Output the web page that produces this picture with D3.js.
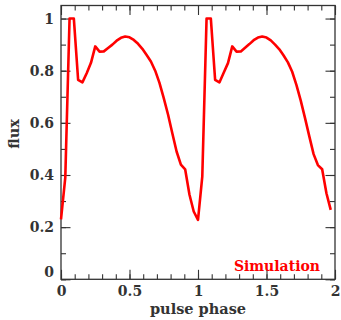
<!DOCTYPE html>
<html>
<head>
<meta charset="utf-8">
<script src="https://cdn.jsdelivr.net/npm/d3@7"></script>
<style>
  body { margin: 0; background: #fff; }
  text { font-family: "DejaVu Serif", serif; font-weight: bold; fill: #333; }
</style>
</head>
<body>
<svg id="chart" width="341" height="320"></svg>
<script>
// pulse profile, phase bins of 1/32, two cycles
const phase = d3.range(64).map(i => i / 32);
const flux = [
  0.23, 0.39, 1.00, 1.00, 0.765, 0.755, 0.79, 0.83,
  0.893, 0.873, 0.874, 0.887, 0.90, 0.915, 0.926, 0.931,
  0.928, 0.918, 0.903, 0.884, 0.86, 0.835, 0.80, 0.753,
  0.695, 0.632, 0.56, 0.49, 0.44, 0.422, 0.325, 0.26,
  0.228, 0.394, 1.00, 1.00, 0.765, 0.755, 0.792, 0.829,
  0.893, 0.873, 0.874, 0.888, 0.902, 0.917, 0.927, 0.931,
  0.927, 0.916, 0.90, 0.882, 0.858, 0.832, 0.796, 0.745,
  0.685, 0.618, 0.548, 0.48, 0.438, 0.422, 0.33, 0.266
];
const xTicks = [0, 0.5, 1, 1.5, 2];
const yTicks = [0, 0.2, 0.4, 0.6, 0.8, 1];
const xLabel = "pulse phase";
const yLabel = "flux";
const seriesName = "Simulation";

const svg = d3.select("#chart");
const mLeft = 61, mRight = 335, mTop = 5.5, mBottom = 279.3;

const x = d3.scaleLinear().domain([0, 2]).range([mLeft, mRight]);
const y = d3.scaleLinear().domain([0, 1.05]).range([mBottom, mTop]);

const xMinor = d3.range(0, 2.0001, 0.1);
const yMinor = d3.range(0, 1.0001, 0.1);

// inward ticks on all four sides
function tickAxis(axis, minor, major, fmt) {
  return g => {
    g.call(axis(minor).tickSize(-5).tickFormat(""));
    g.append("g").call(axis(major).tickSize(-9.5).tickFormat(fmt).tickPadding(7));
  };
}

function styleAxis(g) {
  g.selectAll(".domain").remove();
  g.selectAll("line").attr("stroke", "#333").attr("stroke-width", 1.1);
  g.selectAll("text").attr("font-size", 14).attr("fill", "#333")
    .attr("font-family", null);
}

const fmt = d => d3.format("")(d);

svg.append("g").attr("transform", `translate(0,${mBottom})`)
  .call(tickAxis(t => d3.axisBottom(x).tickValues(t), xMinor, xTicks, fmt))
  .call(styleAxis);
svg.append("g").attr("transform", `translate(0,${mTop})`)
  .call(tickAxis(t => d3.axisTop(x).tickValues(t), xMinor, xTicks, ""))
  .call(styleAxis);
svg.append("g").attr("transform", `translate(${mLeft},0)`)
  .call(tickAxis(t => d3.axisLeft(y).tickValues(t), yMinor, yTicks, fmt))
  .call(styleAxis)
  // the zero label sits a little above the corner
  .call(g => g.selectAll(".tick text").filter(d => d === 0).attr("y", -7));
svg.append("g").attr("transform", `translate(${mRight},0)`)
  .call(tickAxis(t => d3.axisRight(y).tickValues(t), yMinor, yTicks, ""))
  .call(styleAxis);

svg.selectAll("g").attr("font-family", null).attr("font-size", null);

svg.append("rect")
  .attr("x", mLeft).attr("y", mTop)
  .attr("width", mRight - mLeft).attr("height", mBottom - mTop)
  .attr("fill", "none").attr("stroke", "#333").attr("stroke-width", 1.3);

const line = d3.line().x((d, i) => x(phase[i])).y(d => y(d));
svg.append("path")
  .datum(flux)
  .attr("d", line)
  .attr("fill", "none")
  .attr("stroke", "#ff0000")
  .attr("stroke-width", 2.6)
  .attr("stroke-linejoin", "round");

svg.append("text")
  .attr("x", (mLeft + mRight) / 2).attr("y", 314)
  .attr("text-anchor", "middle").attr("font-size", 14.5)
  .text(xLabel);

svg.append("text")
  .attr("transform", `translate(19,134) rotate(-90)`)
  .attr("text-anchor", "middle").attr("font-size", 14.5)
  .text(yLabel);

svg.append("text")
  .attr("x", 320).attr("y", 271)
  .attr("text-anchor", "end").attr("font-size", 14)
  .style("fill", "#ff0000")
  .text(seriesName);
</script>
</body>
</html>
